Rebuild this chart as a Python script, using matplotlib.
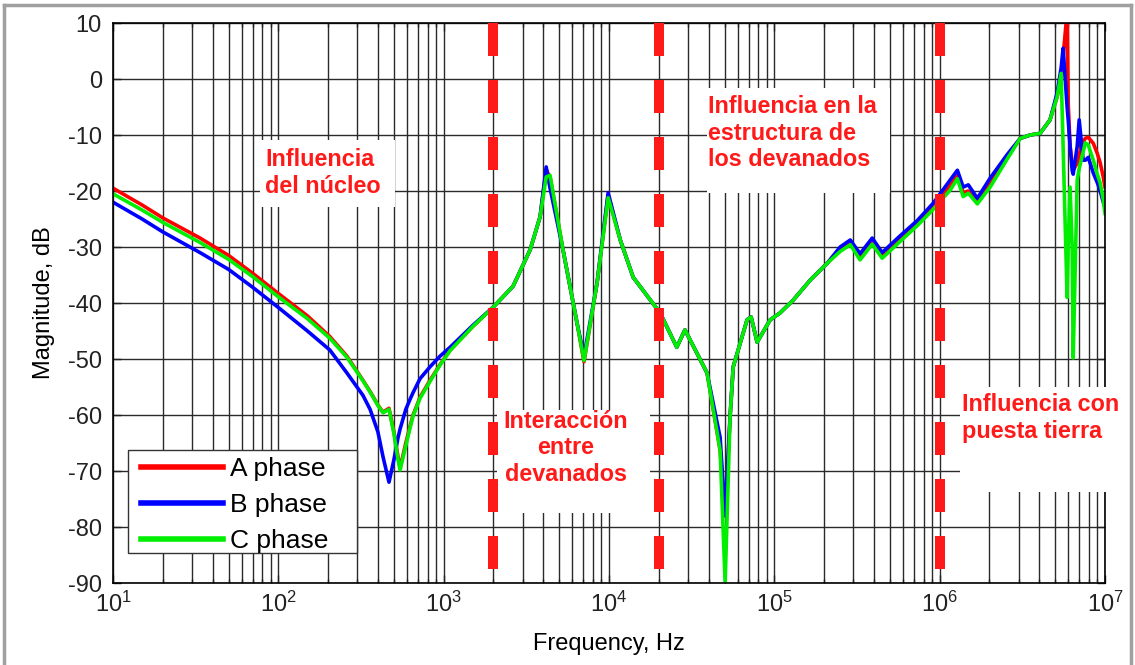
import numpy as np
import matplotlib
matplotlib.use('Agg')
import matplotlib.pyplot as plt
from matplotlib.patches import Rectangle
from matplotlib.lines import Line2D
from matplotlib.ticker import LogLocator, NullFormatter, FixedLocator

# datos (frecuencia en Hz, magnitud en dB)
freq_hz = [10, 15, 20, 33.6, 50, 70, 100, 150, 205, 260, 325, 359, 400, 430, 467,
           500, 530, 545, 590, 626, 653, 720, 827, 950, 1094, 1500,
           2000, 2630, 3335, 3830, 4170, 4400, 5270, 6410, 7060, 8470, 9880,
           11700, 14000, 20400, 25700, 28800, 39200, 47000, 50400, 54000, 56400,
           68400, 72400, 78700, 94400, 108000,
           130000, 165000, 209000, 250000, 288000, 330000, 391000, 449000, 577000,
           731000, 913000, 1.16e6, 1.28e6, 1.387e6, 1.49e6, 1.69e6, 2.02e6, 2.56e6,
           3.07e6, 3.53e6, 4.05e6, 4.65e6, 5.13e6, 5.43e6, 5.58e6, 5.9e6, 5.99e6,
           6.15e6, 6.33e6, 6.42e6, 6.79e6, 6.98e6, 7.38e6, 7.6e6, 7.92e6, 8.5e6,
           8.98e6, 9.36e6, 9.76e6, 1e7]

mag_a = [-19.5, -22.5, -24.8, -28.4, -31.5, -34.7, -38.3, -42.3, -46, -49.5, -53.8, -55.8, -58.2, -59.5, -58.8,
         -63, -67.5, -69.5, -65, -62, -60, -56.8, -53.8, -51, -48.4, -44.2,
         -40.7, -37, -30.5, -24.6, -16.2, -17.5, -30.5, -43.6, -50.5, -36.4, -20.8,
         -28.75, -35.4, -41.8, -47.9, -44.8, -52.5, -66.3, -78, -60.3, -51.4,
         -43, -42.5, -47, -43, -41.8,
         -39.5, -35.9, -32.9, -30.3, -29, -31.8, -28.8, -31.6, -28.5,
         -25.7, -22.8, -19, -17.2, -20.3, -20, -22, -18.6, -13.9,
         -10.6, -10, -9.7, -7.3, -3.2, 0, 4, 12, -4.3,
         -12, -15, -16.3, -15, -13.5, -11.2, -10.6, -10.4, -11.5,
         -13.3, -15, -17.5, -19.3]

mag_b = [-22, -25, -27.3, -31, -34, -37.2, -40.8, -45, -48.4, -52.5, -56.5, -59, -63, -67.5, -72,
         -68, -64, -62.5, -59, -57.2, -56, -53.5, -51.4, -49.5, -47.9, -44,
         -40.7, -37, -30.5, -24.6, -15.7, -19.5, -30.5, -43.6, -49.5, -36.4, -20.3,
         -28.75, -35.4, -41.8, -47.9, -44.8, -52.5, -64, -78, -60.3, -51.4,
         -43, -42.5, -47, -43, -41.8,
         -39.5, -35.9, -32.9, -30, -28.75, -31.2, -28.4, -31, -28,
         -25.3, -22.2, -18, -16.3, -19.3, -18.9, -21.3, -17.7, -13.5,
         -10.6, -10, -9.7, -7.3, -2.5, 2, 5.5, -5, -7.3,
         -12, -16.3, -17, -12, -7.3, -14.5, -14.5, -14, -16.8,
         -18.5, -20, -22, -23]

mag_c = [-20.5, -23.4, -25.6, -29.2, -32.2, -35.3, -38.9, -42.8, -46.3, -49.7, -53.9, -55.9, -58.3, -59.6, -59,
         -63.3, -68, -69.8, -65.5, -62.3, -60.2, -57, -54, -51.1, -48.5, -44.2,
         -40.7, -37, -30.5, -24.6, -17.5, -17.2, -30.5, -43.6, -50.3, -36.4, -21.2,
         -28.75, -35.4, -41.8, -47.9, -44.8, -52.5, -66.3, -90, -60.3, -51.4,
         -43, -42.5, -47, -43, -41.8,
         -39.5, -35.9, -32.9, -30.8, -29.6, -32.3, -29.5, -32, -29,
         -26.2, -23.3, -19.8, -17.8, -21, -20.4, -22.3, -19.3, -14.3,
         -10.6, -10, -9.7, -7.3, -3.2, 1, -12, -39, -30,
         -19.3, -30, -49.8, -18, -16, -13, -11.4, -11.8, -14.5,
         -17, -18.6, -21.5, -24]

phase_labels = ['A phase', 'B phase', 'C phase']
boundary_hz = [2e3, 2e4, 1e6]
x_ticks = [1e1, 1e2, 1e3, 1e4, 1e5, 1e6, 1e7]
x_ticklabels = ['$10^{%d}$' % k for k in range(1, 8)]
y_ticks = list(range(-90, 11, 10))

zonas = [
    ("Influencia\ndel núcleo", 265, 173, 'left'),
    ("Interacción\nentre\ndevanados", 566, 448, 'center'),
    ("Influencia en la\nestructura de\nlos devanados", 708, 133, 'left'),
    ("Influencia con\npuesta tierra", 962, 418, 'left'),
]
cajas = [(260, 140, 395, 207), (497, 410, 650, 513), (707, 88, 890, 193), (960, 387, 1125, 492)]

plt.rcParams['font.family'] = ['Liberation Sans', 'DejaVu Sans']
plt.rcParams['mathtext.fontset'] = 'custom'
plt.rcParams['mathtext.rm'] = 'Liberation Sans'
plt.rcParams['mathtext.it'] = 'Liberation Sans:italic'
plt.rcParams['mathtext.bf'] = 'Liberation Sans:bold'
plt.rcParams['mathtext.default'] = 'regular'
plt.rcParams['axes.unicode_minus'] = False

W, H = 1135, 665
L, R, T, B = 113, 1105, 23, 583

fig = plt.figure(figsize=(W / 100, H / 100), dpi=100)
ax = fig.add_axes([L / W, (H - B) / H, (R - L) / W, (B - T) / H])

def px_ax(x, y):
    # pixel del lienzo -> fraccion de ejes
    return (x - L) / (R - L), (B - y) / (B - T)

def caja(x0, y0, x1, y1, **kw):
    ax0, ay1 = px_ax(x0, y1)
    ax1, ay0 = px_ax(x1, y0)
    return Rectangle((ax0, ay1), ax1 - ax0, ay0 - ay1, transform=ax.transAxes,
                     clip_on=False, **kw)

colores = ['#ff0000', '#0000ff', '#00ee00']
for mag, lab, col in zip([mag_a, mag_b, mag_c], phase_labels, colores):
    ax.semilogx(freq_hz, mag, color=col, lw=2.6, label=lab, zorder=2)

for f in boundary_hz:
    ax.plot([f, f], [10, -90], color='#ff1a1a', lw=7.2, dashes=(3.3, 2.4),
            dash_capstyle='butt', zorder=4)

ax.set_xlim(10, 1e7)
ax.set_ylim(-90, 10)
ax.set_xticks(x_ticks)
ax.set_xticklabels(x_ticklabels)
ax.xaxis.set_minor_locator(LogLocator(base=10, subs=np.arange(2, 10), numticks=20))
ax.xaxis.set_minor_formatter(NullFormatter())
ax.yaxis.set_major_locator(FixedLocator(y_ticks))
ax.set_yticklabels([str(v) for v in y_ticks])

ax.set_axisbelow(True)
ax.grid(True, which='major', color='#2a2a2a', lw=1.0)
ax.grid(True, which='minor', axis='x', color='#2a2a2a', lw=1.0)
ax.tick_params(which='both', direction='in', top=True, right=True, labelsize=17, colors='#222222')
ax.tick_params(which='major', length=6, width=1)
ax.tick_params(which='minor', length=3, width=1)
ax.tick_params(axis='y', pad=8)
ax.tick_params(axis='x', pad=6)
for s in ax.spines.values():
    s.set_color('black')
    s.set_linewidth(1.2)

ax.set_xlabel('Frequency, Hz', fontsize=17, labelpad=12)
ax.set_ylabel('Magnitude, dB', fontsize=17, labelpad=9)

for c in cajas:
    ax.add_patch(caja(*c, fc='white', ec='none', zorder=3))

for txt, x, y, ha in zonas:
    tx, ty = px_ax(x, y)
    ax.text(tx, ty, txt, transform=ax.transAxes, ha=ha, va='center', color='#ff1a1a',
            fontsize=16.8, fontweight='bold', linespacing=1.17, zorder=5, clip_on=False,
            multialignment='center' if ha == 'center' else 'left')

# leyenda sin marco + recuadro propio (mas margen horizontal que vertical)
ax.add_patch(caja(128, 450, 357, 553, fc='white', ec='#333333', lw=1.0, zorder=6))
lx, ly = px_ax(138, 556)
leg = ax.legend(loc='lower left', bbox_to_anchor=(lx, ly), borderaxespad=0, fontsize=19,
                frameon=False, handlelength=3.1, handletextpad=0.27,
                labelspacing=0.45, borderpad=0.12)
for h in leg.get_lines():
    h.set_linewidth(4)
leg.set_zorder(7)

# marco exterior gris de la imagen
marco = dict(color='#a0a0a0', lw=2.5, transform=fig.transFigure)
fig.add_artist(Line2D([4 / W, 4 / W], [0, 1 - 5 / H], **marco))
fig.add_artist(Line2D([4 / W, 1131 / W], [1 - 5 / H, 1 - 5 / H], **marco))
fig.add_artist(Line2D([1131 / W, 1131 / W], [0, 1 - 5 / H], **marco))

fig.savefig('out.png', dpi=100)
